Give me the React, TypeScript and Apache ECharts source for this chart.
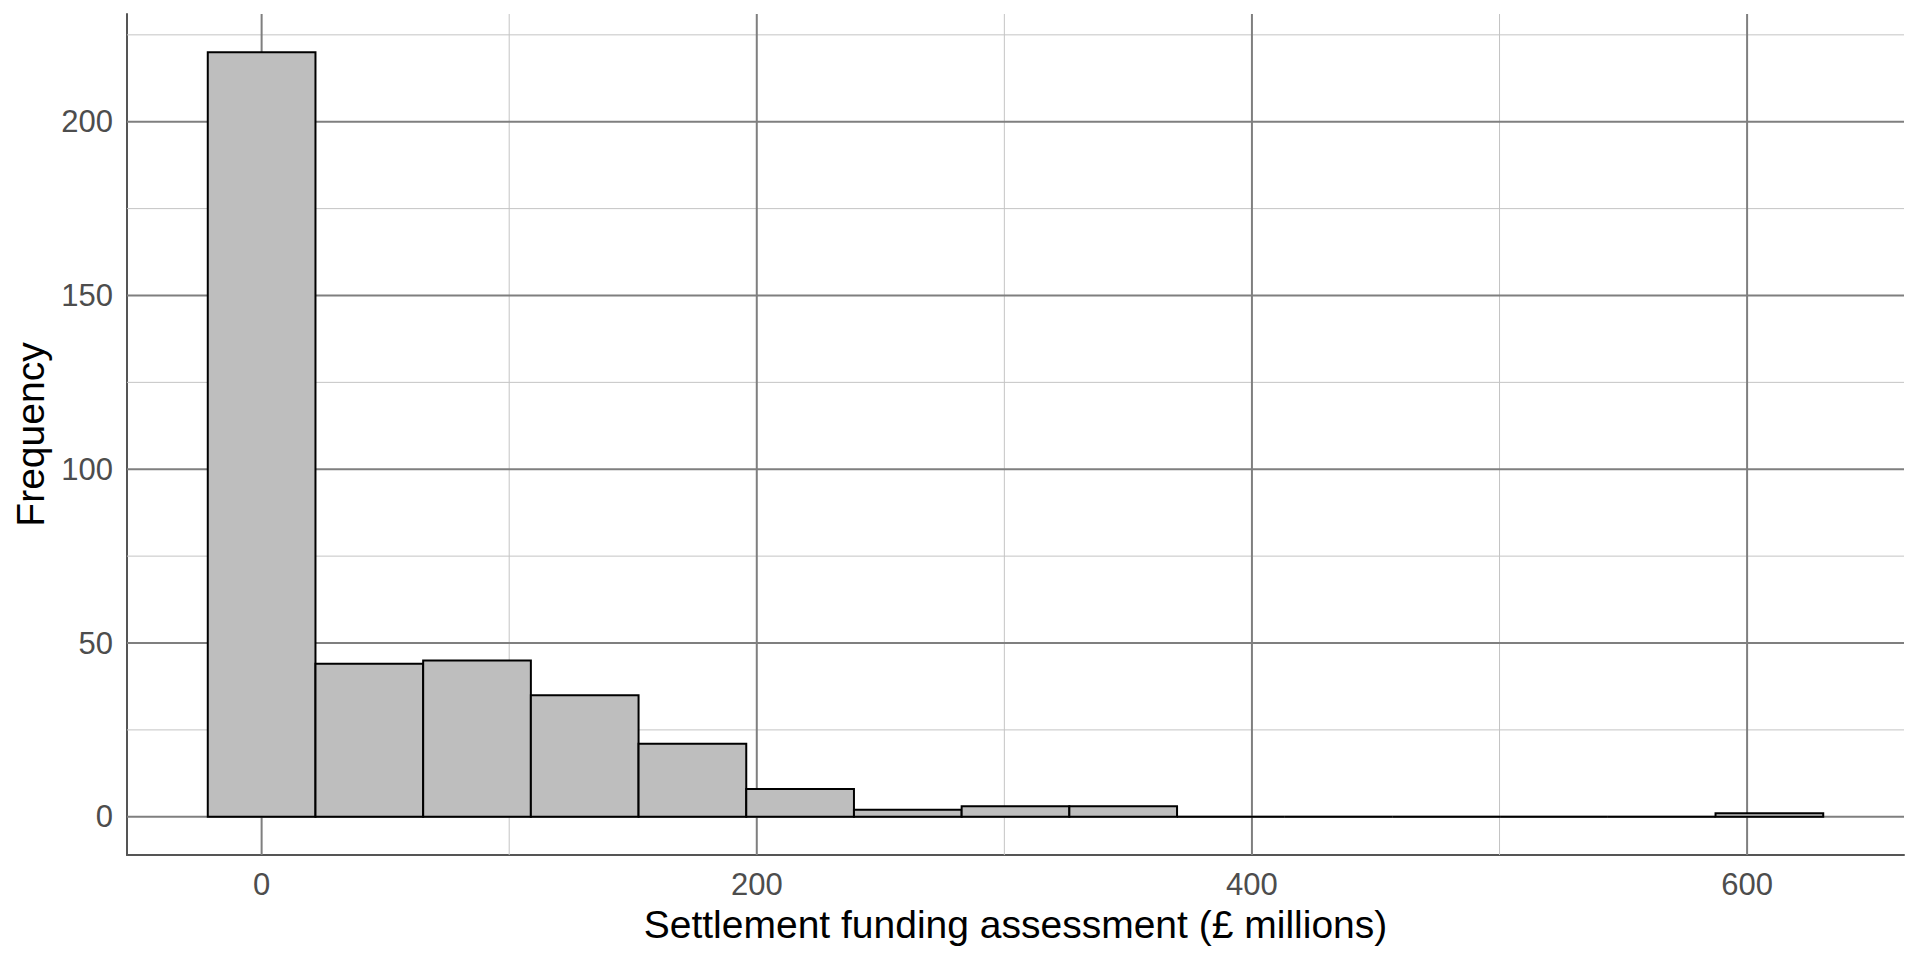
import React, { useEffect, useRef } from "react";
import * as echarts from "echarts";

// Histogram bins (£ millions) and counts
const binStart = [-21.75, 21.75, 65.25, 108.75, 152.25, 195.75, 239.25, 282.75, 326.25, 369.75, 413.25, 456.75, 500.25, 543.75, 587.25];
const binEnd = [21.75, 65.25, 108.75, 152.25, 195.75, 239.25, 282.75, 326.25, 369.75, 413.25, 456.75, 500.25, 543.75, 587.25, 630.75];
const counts = [220, 44, 45, 35, 21, 8, 2, 3, 3, 0, 0, 0, 0, 0, 1];

const xMajor = [0, 200, 400, 600];
const xMinor = [100, 300, 500];
const yMajor = [0, 50, 100, 150, 200];
const yMinor = [25, 75, 125, 175, 225];

const X_MIN = -54.375;
const X_MAX = 663.375;
const Y_MIN = -11;
const Y_MAX = 231;

const FONT = "'Liberation Sans', Arial, sans-serif";

export default function App() {
  const ref = useRef<HTMLDivElement>(null);
  useEffect(() => {
    if (!ref.current) return;
    const chart = echarts.init(ref.current, null, { renderer: "svg" });

    const vLine = (color: string, width: number) => (params: any, api: any) => {
      const cs = params.coordSys;
      const p = api.coord([api.value(0), 0]);
      return {
        type: "line",
        shape: { x1: p[0], y1: cs.y, x2: p[0], y2: cs.y + cs.height },
        style: { stroke: color, lineWidth: width },
        silent: true,
      };
    };
    const hLine = (color: string, width: number) => (params: any, api: any) => {
      const cs = params.coordSys;
      const p = api.coord([0, api.value(1)]);
      return {
        type: "line",
        shape: { x1: cs.x, y1: p[1], x2: cs.x + cs.width, y2: p[1] },
        style: { stroke: color, lineWidth: width },
        silent: true,
      };
    };

    const bars = counts.map((c, i) => [binStart[i], binEnd[i], c]);

    chart.setOption({
      animation: false,
      backgroundColor: "#ffffff",
      textStyle: { fontFamily: FONT },
      grid: { left: 127, right: 16, top: 14, bottom: 105, containLabel: false },
      xAxis: {
        type: "value",
        min: X_MIN,
        max: X_MAX,
        axisLine: { show: true, onZero: false, lineStyle: { color: "#555555", width: 2 } },
        axisTick: { show: false },
        splitLine: { show: false },
        axisLabel: {
          customValues: xMajor,
          fontSize: 31,
          color: "#4d4d4d",
          fontFamily: FONT,
          margin: 14,
        },
        name: "Settlement funding assessment (£ millions)",
        nameLocation: "middle",
        nameGap: 49,
        nameTextStyle: { fontSize: 39, color: "#000000", fontFamily: FONT },
      },
      yAxis: {
        type: "value",
        min: Y_MIN,
        max: Y_MAX,
        axisLine: { show: true, onZero: false, lineStyle: { color: "#555555", width: 2 } },
        axisTick: { show: false },
        splitLine: { show: false },
        axisLabel: {
          customValues: yMajor,
          fontSize: 31,
          color: "#4d4d4d",
          fontFamily: FONT,
          margin: 14,
        },
        name: "Frequency",
        nameLocation: "middle",
        nameGap: 74,
        nameTextStyle: { fontSize: 39, color: "#000000", fontFamily: FONT },
      },
      series: [
        { type: "custom", z: 1, silent: true, data: xMinor.map((v) => [v, 0]), encode: { x: 0 }, renderItem: vLine("#c4c4c4", 1) },
        { type: "custom", z: 1, silent: true, data: yMinor.map((v) => [0, v]), encode: { y: 1 }, renderItem: hLine("#c4c4c4", 1) },
        { type: "custom", z: 2, silent: true, data: xMajor.map((v) => [v, 0]), encode: { x: 0 }, renderItem: vLine("#7f7f7f", 2) },
        { type: "custom", z: 2, silent: true, data: yMajor.map((v) => [0, v]), encode: { y: 1 }, renderItem: hLine("#7f7f7f", 2) },
        {
          type: "custom",
          z: 3,
          data: bars,
          encode: { x: [0, 1], y: 2 },
          renderItem: (params: any, api: any) => {
            const a = api.coord([api.value(0), 0]);
            const b = api.coord([api.value(1), api.value(2)]);
            return {
              type: "polygon",
              shape: { points: [[a[0], a[1]], [a[0], b[1]], [b[0], b[1]], [b[0], a[1]]] },
              style: { fill: "#bebebe", stroke: "#000000", lineWidth: 2 },
            };
          },
        },
      ],
    });
    return () => chart.dispose();
  }, []);
  return (
    <div
      ref={ref}
      style={{ position: "absolute", left: 0, top: 0, width: 1920, height: 960 }}
    />
  );
}
